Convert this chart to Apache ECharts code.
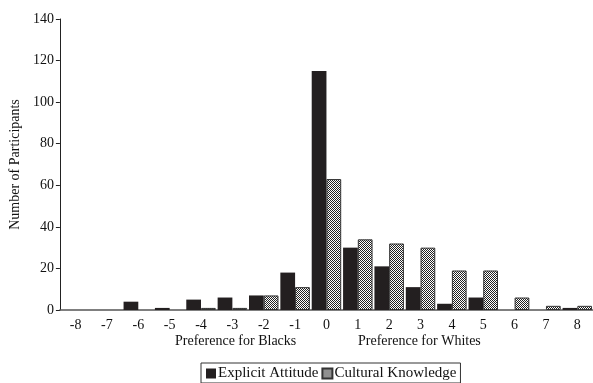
<!DOCTYPE html>
<html><head><meta charset="utf-8">
<script src="https://cdn.jsdelivr.net/npm/echarts@6/dist/echarts.min.js"></script>
<style>html,body{margin:0;padding:0;background:#fff}#c{width:593px;height:383px}</style>
</head><body><div id="c"></div>
<script>
const categories = ['-8','-7','-6','-5','-4','-3','-2','-1','0','1','2','3','4','5','6','7','8'];
const explicitAttitude = [0,0,4,1,5,6,7,18,115,30,21,11,3,6,0,0,1];
const culturalKnowledge = [0,0,0,0,1,1,7,11,63,34,32,30,19,19,6,2,2];
const yTicks = [0,20,40,60,80,100,120,140];

const cv = document.createElement('canvas');
cv.width = 2; cv.height = 2;
const cx = cv.getContext('2d');
cx.fillStyle = '#ffffff'; cx.fillRect(0,0,2,2);
cx.fillStyle = '#222222'; cx.fillRect(0,0,1,1); cx.fillRect(1,1,1,1);

const hideZero = arr => arr.map(v => v === 0 ? '-' : v);

const FONT = 'Liberation Serif';
const chart = echarts.init(document.getElementById('c'), null, {renderer:'canvas'});
chart.setOption({
  animation:false,
  backgroundColor:'#fff',
  textStyle:{fontFamily:FONT},
  grid:{left:58, right:-2, top:19, bottom:73, containLabel:false},
  xAxis:{
    type:'category', data:categories,
    axisLine:{lineStyle:{color:'#555', width:1.5}},
    axisTick:{show:false},
    axisLabel:{color:'#111', fontFamily:FONT, fontSize:14, margin:8}
  },
  yAxis:{
    type:'value', min:yTicks[0], max:yTicks[yTicks.length-1], interval:20,
    name:'Number of Participants', nameLocation:'middle', nameGap:36,
    nameTextStyle:{color:'#111', fontFamily:FONT, fontSize:14},
    axisLine:{show:true, lineStyle:{color:'#222', width:1}},
    axisTick:{show:true, length:4, lineStyle:{color:'#222'}},
    axisLabel:{color:'#111', fontFamily:FONT, fontSize:14, margin:6},
    splitLine:{show:false}
  },
  legend:{
    bottom:0, left:201,
    borderColor:'#333', borderWidth:1, padding:[3,4,2,5],
    itemWidth:10, itemHeight:10, itemGap:3,
    textStyle:{color:'#111', fontFamily:FONT, fontSize:15, padding:[1,0,0,-3]},
    data:[{name:'Explicit Attitude', icon:'rect'},{name:'Cultural Knowledge', icon:'rect'}]
  },
  graphic:[
    {type:'text', left:175, top:334, style:{text:'Preference for Blacks', font:'14px "Liberation Serif"', fill:'#111'}},
    {type:'text', left:358, top:334, style:{text:'Preference for Whites', font:'14px "Liberation Serif"', fill:'#111'}}
  ],
  series:[
    {name:'Explicit Attitude', type:'bar', data:hideZero(explicitAttitude), barGap:'0%', barCategoryGap:'6%',
     itemStyle:{color:'#231f20', borderColor:'#231f20', borderWidth:0}},
    {name:'Cultural Knowledge', type:'bar', data:hideZero(culturalKnowledge),
     itemStyle:{color:{image:cv, repeat:'repeat'}, borderColor:'#333', borderWidth:1}}
  ]
});
</script></body></html>
